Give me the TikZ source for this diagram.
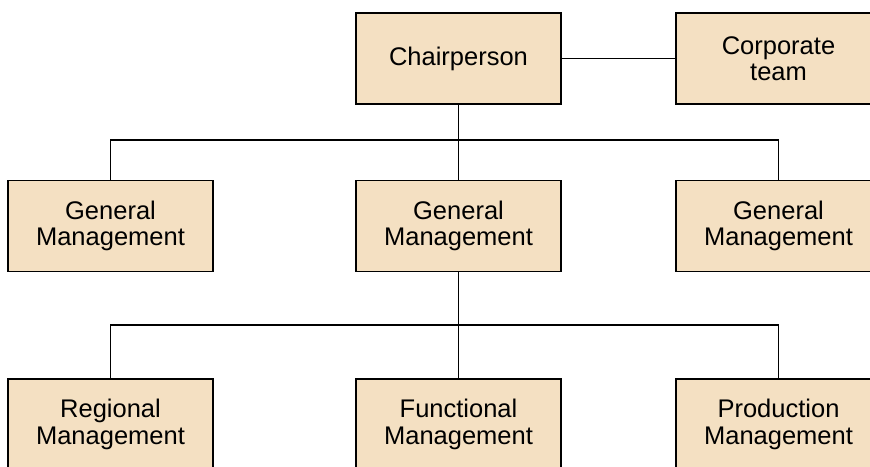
\documentclass[tikz,border=0pt]{standalone}
\usepackage{fontspec}
\setmainfont{Liberation Sans}
\definecolor{boxfill}{HTML}{F4E0C2}
\begin{document}
\begin{tikzpicture}[x=1pt,y=-1pt,
  orgbox/.style={draw=black,line width=1.8pt,fill=boxfill,rectangle,
    minimum width=205pt,minimum height=91pt,inner sep=0pt,align=center,
    font=\fontsize{25.5}{26.5}\selectfont},
  link/.style={draw=black,line width=1.4pt}]
\useasboundingbox (0,0) rectangle (870,466);
\clip (0,0) rectangle (870,466);
\node[orgbox] (chair) at (458.5,58.5) {\raisebox{-2pt}{Chairperson}};
\node[orgbox] (corp) at (778.5,58.5) {Corporate\\team};
\node[orgbox] (gmL) at (110.5,226) {General\\Management};
\node[orgbox] (gmM) at (458.5,226) {General\\Management};
\node[orgbox] (gmR) at (778.5,226) {General\\Management};
\node[orgbox] (reg) at (110.5,424.5) {Regional\\Management};
\node[orgbox] (fun) at (458.5,424.5) {Functional\\Management};
\node[orgbox] (pro) at (778.5,424.5) {Production\\Management};
\coordinate (j1) at (458.5,140);
\coordinate (j2) at (458.5,325);
\draw[link] (chair.east) -- (corp.west);
\draw[link] (chair.south) -- (gmM.north);
\draw[link] (gmL.north) |- (j1) -| (gmR.north);
\draw[link] (gmM.south) -- (fun.north);
\draw[link] (reg.north) |- (j2) -| (pro.north);
\end{tikzpicture}
\end{document}
